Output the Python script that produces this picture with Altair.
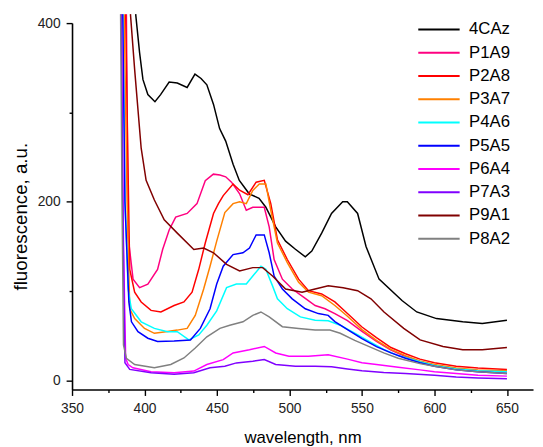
import altair as alt
import pandas as pd

series_names = ["4CAz", "P1A9", "P2A8", "P3A7", "P4A6", "P5A5", "P6A4", "P7A3", "P9A1", "P8A2"]
series_colors = ["#000000", "#FF0080", "#FF0000", "#FF8000", "#00FFFF", "#0000FF", "#FF00FF", "#8000FF", "#800000", "#808080"]

wl_4CAz = [393.9, 396.6, 398.9, 402.3, 407.2, 411.1, 417, 422.6, 429.4, 434.8, 439, 443, 447.6, 451.8, 456, 461.1, 465.4, 472.2, 479, 483.7, 490.5, 497.3, 504.1, 510.9, 515.4, 522.2, 529, 536.7, 539.9, 547, 552.8, 561.8, 577.6, 587.8, 601.4, 619.5, 633, 650]
fl_4CAz = [410, 367, 337, 320, 312, 320, 334, 333, 328, 343, 338, 331, 309, 282, 268, 242, 224, 209, 204, 194, 172, 156, 147, 138.5, 145, 165, 187, 200, 200, 187, 150, 113.5, 89.6, 76.8, 69.4, 65.8, 64, 67.5]

wl_P1A9 = [387.5, 388.7, 392.1, 396.6, 402.3, 409, 412.5, 417, 421.5, 429.4, 436.2, 441.9, 447.5, 452, 456, 460, 465.6, 470.2, 474.7, 482.6, 486, 489.4, 495.1, 501.9, 509.7, 517.7, 524.5, 531.3, 540, 550, 560, 570, 580, 590, 600, 615, 630, 650]
fl_P1A9 = [410, 161, 113.5, 104, 108, 124.5, 146.6, 168.6, 183, 187, 198, 223.7, 231, 230, 228, 222, 209, 190.6, 194, 194, 172, 135.5, 113.5, 102.5, 93.3, 84, 80.4, 75, 67, 55, 44, 34, 27, 21, 17, 13, 11, 10]

wl_P2A8 = [387, 388.5, 389.8, 393.2, 397.7, 404.5, 411.3, 420.4, 427.2, 432.8, 437.4, 441.9, 447.6, 451, 454.3, 461.1, 465.6, 471.3, 477, 482.6, 487.1, 491.7, 498.5, 506.3, 513.1, 522.2, 531.3, 540, 550, 560, 570, 580, 590, 600, 615, 630, 650]
fl_P2A8 = [410, 250, 124.5, 99, 88, 78.6, 76.8, 84, 88, 99, 124.5, 154, 187, 198, 207, 220, 213, 208, 222, 224, 198, 157.6, 135.5, 113.5, 100.6, 97, 88, 75, 60, 48, 37, 30, 24, 20, 16, 14, 12.5]

wl_P3A7 = [386, 388, 389.8, 393.2, 400, 406.8, 414.7, 422.6, 429.4, 435, 440.8, 445.2, 449.8, 455.4, 461.1, 465.6, 470.2, 474.7, 479.2, 483.7, 487.1, 491.7, 498.5, 506.3, 513.1, 522.2, 531.3, 540, 550, 560, 570, 580, 590, 600, 615, 630, 650]
fl_P3A7 = [410, 200, 80.4, 69.4, 58.4, 52.9, 54.7, 56.5, 58.4, 73, 102.5, 128, 156, 188, 198, 200, 198, 212.7, 220, 220, 190.6, 154, 132, 110, 99, 95, 84, 72, 57, 45, 35, 28, 22, 18, 14, 12, 11]

wl_P4A6 = [385, 386.5, 388.7, 390.9, 397.7, 406.8, 415.9, 422.6, 430.6, 437.4, 443, 449.8, 456.6, 463.4, 470.2, 474.7, 480.3, 483.7, 488.3, 491.7, 498.5, 507.5, 517.7, 526.7, 535, 545, 555, 565, 575, 590, 600, 615, 630, 650]
fl_P4A6 = [410, 200, 102.5, 80.4, 65.8, 58.4, 54.7, 54.7, 45.5, 51, 62, 78, 104, 108, 108, 117, 128, 124.5, 106, 91.5, 80.4, 71.3, 67.5, 67, 62, 53, 44, 35, 28, 21, 17, 13, 11, 10]

wl_P5A5 = [385, 386.5, 389.2, 391, 395.5, 402.3, 409, 420.4, 431.7, 438.5, 445.2, 449.8, 454.3, 461.1, 467.9, 472.4, 477, 482.6, 486, 489.4, 495.1, 501.9, 510.9, 519.9, 526.7, 531.3, 540, 550, 560, 570, 580, 590, 600, 615, 630, 650]
fl_P5A5 = [410, 200, 88, 65.8, 54.7, 47.4, 43.7, 44.4, 45.5, 58.4, 80.4, 108, 128, 141, 143, 148.4, 163, 163, 143, 117, 102.5, 91.5, 80.4, 75, 73, 66, 57, 47, 38, 31, 25, 20, 16, 12, 10, 8]

wl_P6A4 = [384, 385.5, 387, 388.7, 392, 404.5, 420.4, 434, 443, 454.3, 461.1, 472.4, 482.6, 490.5, 499.6, 513.1, 526.7, 540, 550, 560, 575, 590, 600, 615, 630, 650]
fl_P6A4 = [410, 150, 25, 18, 14.3, 10, 8.8, 10.7, 18, 23.5, 30.9, 34.5, 38.2, 30.9, 27.2, 27.2, 29, 24, 20, 18, 15, 12, 10, 8, 6, 5]

wl_P7A3 = [384, 385, 386.5, 389.8, 404.5, 420.4, 434, 445.2, 455.4, 463.4, 474.7, 482.6, 490.5, 504.1, 517.7, 529, 540, 550, 565, 580, 600, 615, 630, 650]
fl_P7A3 = [410, 200, 20, 12.5, 8.8, 7, 8.8, 14.3, 16, 19.8, 21.7, 23.5, 18, 16, 16, 15.4, 13, 11, 9, 8, 6, 4, 3, 2]

wl_P9A1 = [390.3, 393.2, 397.7, 401.1, 406.8, 413.6, 422.6, 434, 440.8, 447.6, 456.6, 465.6, 474.7, 481.5, 488.3, 497.3, 508.7, 517.7, 526.7, 537, 547, 556.2, 565.2, 578.8, 590.1, 605.9, 619.5, 633, 650]
fl_P9A1 = [410, 348, 260, 224, 202, 180, 165, 146.6, 148.4, 143, 130, 122.6, 126.4, 126.4, 117, 102.5, 98.8, 102.5, 106, 104, 100.6, 91.5, 76.8, 58.4, 45.5, 38.2, 34.5, 34.5, 37]

wl_P8A2 = [383.5, 384.5, 385.5, 387.5, 393.2, 406.8, 418.1, 427.2, 435, 443, 452, 458.8, 467.9, 474.7, 480.3, 486, 495.1, 506.3, 517.7, 527.9, 535, 545, 555, 565, 575, 590, 600, 615, 630, 650]
fl_P8A2 = [410, 200, 40, 25, 18, 14.3, 18, 25.3, 36.4, 49, 58.4, 62, 65.8, 73, 76.8, 71.3, 60.3, 58.4, 56.5, 56.5, 53, 45, 38, 31, 25, 19, 16, 12, 10, 8]

x_ticks = [350, 375, 400, 425, 450, 475, 500, 525, 550, 575, 600, 625, 650]
y_ticks = [0, 100, 200, 300, 400]

series = {
    "4CAz": (wl_4CAz, fl_4CAz), "P1A9": (wl_P1A9, fl_P1A9), "P2A8": (wl_P2A8, fl_P2A8),
    "P3A7": (wl_P3A7, fl_P3A7), "P4A6": (wl_P4A6, fl_P4A6), "P5A5": (wl_P5A5, fl_P5A5),
    "P6A4": (wl_P6A4, fl_P6A4), "P7A3": (wl_P7A3, fl_P7A3), "P9A1": (wl_P9A1, fl_P9A1),
    "P8A2": (wl_P8A2, fl_P8A2),
}
rows = []
for name, (wl, fl) in series.items():
    for i, (a, b) in enumerate(zip(wl, fl)):
        rows.append({"sample": name, "wl": a, "fl": b, "i": i})
df = pd.DataFrame(rows)

FONT = "Liberation Sans"

chart = alt.Chart(df).mark_line(strokeWidth=1.5, clip=False).encode(
    x=alt.X("wl:Q", scale=alt.Scale(domain=[350, 668], nice=False, zero=False),
            axis=alt.Axis(values=x_ticks, title="wavelength, nm", grid=False,
                          labelFlush=False, labelPadding=6,
                          labelExpr="datum.value % 50 === 0 ? datum.label : ''",
                          tickSize={"condition": {"test": "datum.value % 50 === 0", "value": 6}, "value": 3},
                          titlePadding=15)),
    y=alt.Y("fl:Q", scale=alt.Scale(domain=[-10, 400], nice=False, zero=False),
            axis=alt.Axis(values=y_ticks, title="fluorescence, a.u.", grid=False,
                          labelFlush=False, labelPadding=6,
                          labelExpr="datum.value % 200 === 0 ? datum.label : ''",
                          tickSize={"condition": {"test": "datum.value % 200 === 0", "value": 6}, "value": 3},
                          titlePadding=7, titleFontSize=19, titleY=196)),
    color=alt.Color("sample:N", scale=alt.Scale(domain=series_names, range=series_colors),
                    legend=alt.Legend(title=None, orient="none", legendX=364, legendY=-2,
                                      symbolType="M-3.5,0H3.5", symbolSize=144, symbolStrokeWidth=2,
                                      labelFontSize=17, labelFont=FONT, labelOffset=22,
                                      rowPadding=5.6, padding=0, labelColor="#000")),
    order=alt.Order("i:Q"),
).properties(
    width=468, height=372,
    autosize=alt.AutoSizeParams(type="none"),
    padding={"left": 65, "top": 12, "right": 2, "bottom": 55},
).configure_view(stroke=None).configure_axis(
    labelFont=FONT, titleFont=FONT, labelFontSize=14, titleFontSize=17,
    titleFontWeight="normal", labelColor="#222", titleColor="#000",
    domainColor="#000", tickColor="#000", domainWidth=1.6, tickWidth=1.4,
)

chart.save("out.html", embed_options={"renderer": "svg", "actions": False})
